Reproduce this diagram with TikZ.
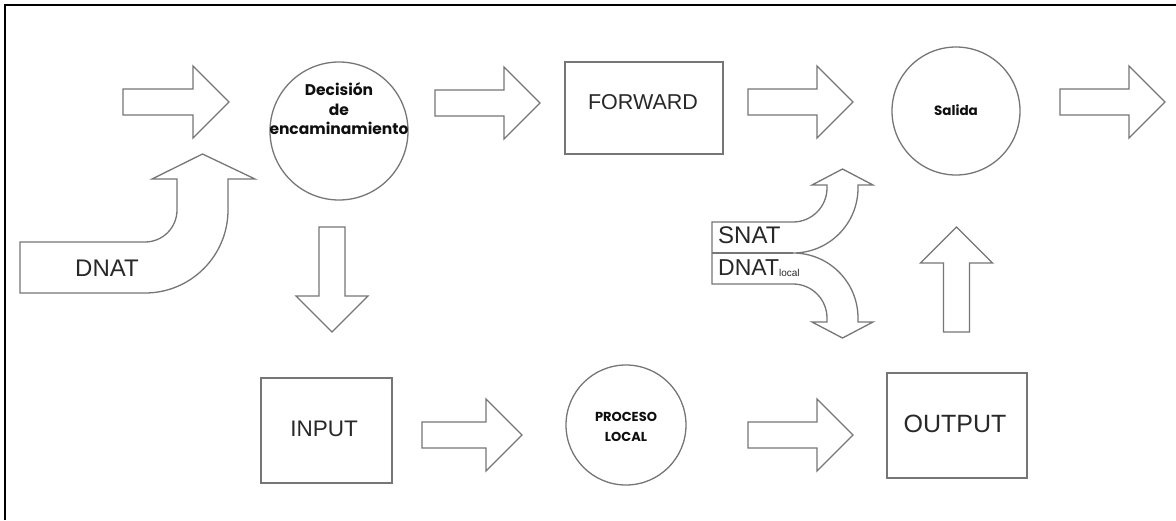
\documentclass[tikz,border=0pt]{standalone}
\usepackage{fontspec}
\setmainfont{Liberation Sans}
\newfontfamily\gothic{Poppins}
\definecolor{lc}{RGB}{118,118,118}
\definecolor{tc}{RGB}{40,40,40}
\definecolor{bc}{RGB}{15,15,15}
\begin{document}
\begin{tikzpicture}[x=1pt,y=-1pt,
  shp/.style={draw=lc,line width=1.3pt,line join=miter},
  boxn/.style={shp,rectangle,inner sep=0pt},
  circn/.style={shp,circle,inner sep=0pt},
  lbl/.style={text=tc,inner sep=0pt,font=\fontsize{21.5}{24}\selectfont},
  glbl/.style={text=bc,inner sep=0pt,align=center,font=\gothic\bfseries\fontsize{15.5}{19.5}\selectfont},
  pics/barrow/.style={code={
    \draw[shp] (0,-13) -- (#1,-13) -- (#1,-36) -- (#1+36,0) -- (#1,36) -- (#1,13) -- (0,13) -- cycle;}}
]
\useasboundingbox (0,0) rectangle (1176,520);
\fill[white] (0,0) rectangle (1176,520);
% frame
\draw[black,line width=2.6pt] (5,520) -- (5,5) -- (1176,5);

% nodes
\node[circn,minimum size=138] (dec) at (339,131) {};
\node[glbl] (dect) at (339,109) {Decisión\\de\\encaminamiento};
\node[boxn,minimum width=158,minimum height=92] (fwd) at (644,108) {};
\node[lbl] (fwdt) at (643,102) {FORWARD};
\node[circn,minimum size=128] (sal) at (956,111) {};
\node[glbl,font=\gothic\bfseries\fontsize{13.5}{16}\selectfont] (salt) at (956,110) {Salida};
\node[boxn,minimum width=131,minimum height=105] (inp) at (326.5,430.5) {};
\node[lbl,font=\fontsize{22.5}{26}\selectfont] (inpt) at (324,429) {INPUT};
\node[circn,minimum size=120] (proc) at (626,425) {};
\node[glbl,font=\gothic\bfseries\fontsize{13}{20}\selectfont] (proct) at (626,427) {PROCESO\\LOCAL};
\node[boxn,minimum width=140,minimum height=105] (out) at (957,425.5) {};
\node[lbl,font=\fontsize{25}{28}\selectfont] (outt) at (955,424) {OUTPUT};

% block arrows
\pic (a1) at (123,102) {barrow=70};
\pic (a2) at (435,103) {barrow=69};
\pic (a3) at (748,102) {barrow=69};
\pic (a4) at (1060,102) {barrow=69};
\pic[rotate=-90] (a5) at (332,227) {barrow=69};
\pic (a6) at (422,435) {barrow=64};
\pic (a7) at (748,435) {barrow=69};
\pic[rotate=90] (a8) at (956.5,332) {barrow=69};

% DNAT bent arrow
\draw[shp] (20,242) -- (145,242) arc[start angle=90,end angle=0,radius=32]
  -- (177,179) -- (152,179) -- (202.5,154) -- (255,179) -- (228,179) -- (228,210)
  arc[start angle=0,end angle=90,radius=83] -- (20,293) -- cycle;
\node[lbl,font=\fontsize{24}{28}\selectfont] (dnat) at (107,268) {DNAT};

% SNAT / DNATlocal fork arrow
\draw[shp] (712,222) -- (793,222) arc[start angle=90,end angle=0,radius=34]
  -- (827,185) -- (812,185) -- (842.5,169) -- (873,185) -- (858,185) -- (858,188)
  arc[start angle=0,end angle=90,radius=65]
  arc[start angle=-90,end angle=0,radius=65]
  -- (858,322) -- (873,322) -- (842.5,338) -- (812,322) -- (827,322) -- (827,318)
  arc[start angle=0,end angle=-90,radius=34] -- (712,284) -- cycle;
\draw[shp] (712,253) -- (793,253);
\node[lbl,anchor=base west,font=\fontsize{24}{28}\selectfont] (snat) at (718,243) {SNAT};
\node[lbl,anchor=base west,font=\fontsize{23}{28}\selectfont] (dnatl) at (718,275) {DNAT\raisebox{-1pt}{\fontsize{10}{10}\selectfont local}};
\end{tikzpicture}
\end{document}
